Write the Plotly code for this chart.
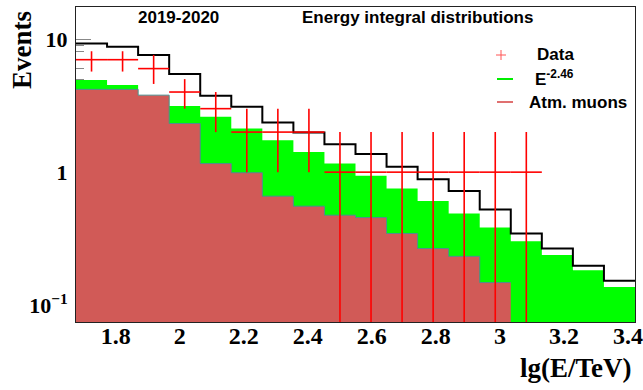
import numpy as np
import plotly.graph_objects as go

# Binning in lg(E/TeV)
x_start = 1.676
bin_width = 0.097
n_bins = 18

# Integral event counts per bin
total_model = [9.28, 8.75, 7.58, 5.46, 3.75, 3.10, 2.36, 1.99, 1.62, 1.37,
               1.10, 0.886, 0.723, 0.524, 0.346, 0.267, 0.198, 0.153]
signal_e246 = [4.92, 4.51, 3.70, 3.14, 2.61, 2.13, 1.74, 1.42, 1.16, 0.938,
               0.754, 0.608, 0.489, 0.384, 0.303, 0.238, 0.183, 0.137]
atm_muons = [4.19, 4.19, 3.79, 2.32, 1.16, 0.99, 0.66, 0.555, 0.475, 0.456,
             0.346, 0.267, 0.233, 0.148]
data_counts = [7, 7, 6, 4, 3, 2, 2, 2, 1, 1, 1, 1, 1, 1, 1]
data_err_up = [1.1, 1.1, 1.6, 1, 1, 1, 1, 1, 1, 1, 1, 1, 1, 1, 1]
data_err_dn = [1.3, 1.3, 1.4, 1, 1, 1, 1, 1, 1, 1, 1, 1, 1, 1, 1]

x_ticks = [1.8, 2.0, 2.2, 2.4, 2.6, 2.8, 3.0, 3.2, 3.4]
y_tickvals = [0.1, 1, 10]
y_ticktext = ["10<sup>\u22121</sup>", "1", "10"]

edges = x_start + bin_width * np.arange(n_bins + 1)
centers = edges[:-1] + bin_width / 2


def step_xy(vals):
    n = len(vals)
    return list(edges[:n + 1]), list(vals) + [vals[-1]]


fig = go.Figure()

# E^-2.46 (green, filled)
sx, sy = step_xy(signal_e246)
fig.add_trace(go.Scatter(x=sx, y=sy, mode="lines", line_shape="hv",
                         line=dict(color="#00FF00", width=0),
                         fill="tozeroy", fillcolor="#00FF00",
                         showlegend=False, hoverinfo="skip"))

# Atmospheric muons (red, filled)
mx, my = step_xy(atm_muons)
fig.add_trace(go.Scatter(x=mx, y=my, mode="lines", line_shape="hv",
                         line=dict(color="#4E8E8E", width=1),
                         fill="tozeroy", fillcolor="#D15A57",
                         showlegend=False, hoverinfo="skip"))

# Total expectation (black outline)
tx, ty = step_xy(total_model)
fig.add_trace(go.Scatter(x=tx, y=ty, mode="lines", line_shape="hv",
                         line=dict(color="black", width=2),
                         showlegend=False, hoverinfo="skip"))

# Data with error bars
nd = len(data_counts)
fig.add_trace(go.Scatter(
    x=list(centers[:nd]), y=data_counts, mode="markers",
    marker=dict(size=0.1, color="red"),
    error_x=dict(type="constant", value=bin_width / 2, color="red",
                 thickness=1.6, width=0),
    error_y=dict(type="data", array=data_err_up, arrayminus=data_err_dn,
                 symmetric=False, color="red", thickness=1.6, width=0),
    showlegend=False, hoverinfo="skip"))

# Plot-area geometry in pixels (for placing text around the frame)
L, R, T, B = 76, 635, 7, 322


def px(xp):
    return (xp - L) / (R - L)


def py(yp):
    return (B - yp) / (B - T)


sans = dict(family="Liberation Sans", size=17, color="black")
serif = dict(family="Liberation Serif", size=27, color="black")

annotations = [
    dict(text="<b>2019-2020</b>", x=px(136), y=py(17), xanchor="left",
         yanchor="middle", font=sans),
    dict(text="<b>Energy integral distributions</b>", x=px(300), y=py(17),
         xanchor="left", yanchor="middle", font=sans),
    dict(text="<b>Data</b>", x=px(535), y=py(54), xanchor="left",
         yanchor="middle", font=sans),
    dict(text="<b>E<sup>-2.46</sup></b>", x=px(533), y=py(78), xanchor="left",
         yanchor="middle", font=sans),
    dict(text="<b>Atm. muons</b>", x=px(527), y=py(102), xanchor="left",
         yanchor="middle", font=sans),
    dict(text="<b>Events</b>", x=px(22), y=py(50), textangle=-90,
         xanchor="center", yanchor="middle", font=serif),
    dict(text="<b>lg(E/TeV)</b>", x=px(634), y=py(368), xanchor="right",
         yanchor="middle", font=serif),
]
for a in annotations:
    a.update(xref="paper", yref="paper", showarrow=False)

# Legend symbols
shapes = [
    dict(type="line", x0=px(496), x1=px(506), y0=py(55), y1=py(55),
         line=dict(color="#FF5555", width=1)),
    dict(type="line", x0=px(501), x1=px(501), y0=py(50), y1=py(60),
         line=dict(color="#FF5555", width=1)),
    dict(type="line", x0=px(497), x1=px(513), y0=py(79), y1=py(79),
         line=dict(color="#00EE00", width=2)),
    dict(type="line", x0=px(497), x1=px(513), y0=py(102), y1=py(102),
         line=dict(color="#E07070", width=2)),
]
for s in shapes:
    s.update(xref="paper", yref="paper")

fig.update_layout(
    width=643, height=390,
    margin=dict(l=L, r=643 - R, t=T, b=390 - B, autoexpand=False),
    paper_bgcolor="white", plot_bgcolor="white",
    showlegend=False,
    annotations=annotations, shapes=shapes,
    xaxis=dict(range=[edges[0], edges[-1]], tickvals=x_ticks,
               ticks="inside", ticklen=10, tickcolor="#888",
               showline=True, linecolor="#222", linewidth=1, mirror=True,
               showgrid=False, zeroline=False, layer="below traces",
               automargin=False, ticklabelstandoff=-8,
               tickfont=dict(family="Liberation Serif", size=24,
                             weight="bold", color="black")),
    yaxis=dict(type="log", range=[-1.126, 1.241],
               tickvals=y_tickvals, ticktext=y_ticktext,
               ticks="inside", ticklen=15, tickcolor="#888",
               minor=dict(ticks="inside", ticklen=8, tickcolor="#888",
                          dtick="D1"),
               showline=True, linecolor="#222", linewidth=1, mirror=True,
               showgrid=False, zeroline=False, layer="below traces",
               automargin=False, ticklabelstandoff=3,
               tickfont=dict(family="Liberation Serif", size=22,
                             weight="bold", color="black")),
)

fig.write_html("out.html")
